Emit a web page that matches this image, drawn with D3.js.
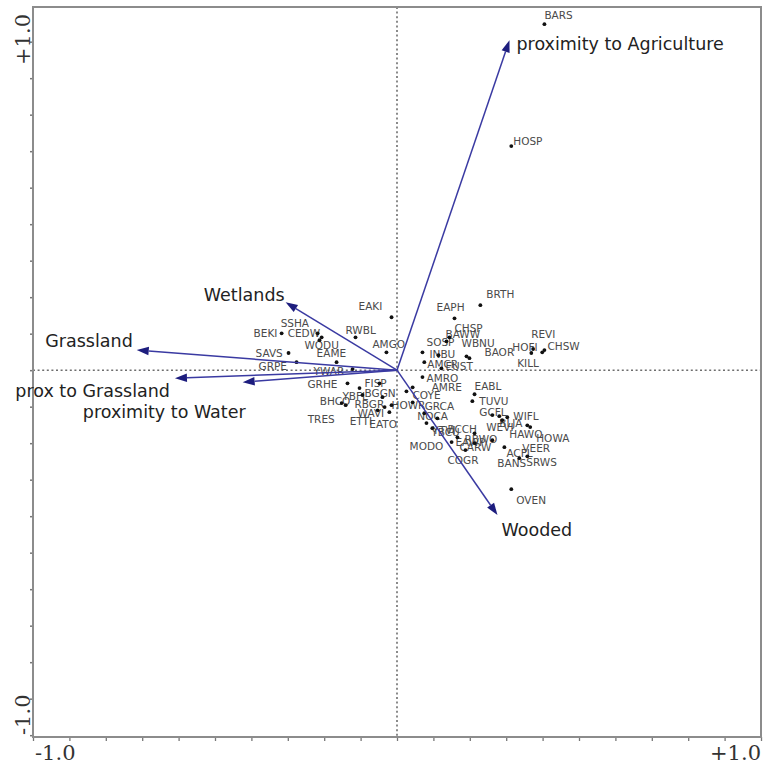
<!DOCTYPE html>
<html>
<head>
<meta charset="utf-8">
<script src="https://cdn.jsdelivr.net/npm/d3@7/dist/d3.min.js"></script>
<style>
  html, body { margin: 0; padding: 0; background: #fff; }
  svg { display: block; }
</style>
</head>
<body>
<svg id="chart" width="765" height="768"></svg>
<script>
// Species scores on the first two ordination axes
const species = ["BARS","HOSP","BRTH","EAPH","EAKI","RWBL","AMGO","SSHA","CEDW","BEKI",
  "WODU","EAME","SAVS","GRPE","YWAR","GRHE","FISP","BGGN","YBFL","BHCO",
  "RBGR","HOWR","WAVI","TRES","ETTI","EATO","CHSP","BAWW","SOSP","WBNU",
  "BAOR","INBU","AMCR","EUST","AMRO","AMRE","COYE","KILL","HOFI","REVI",
  "CHSW","EABL","TUVU","GCFL","WIFL","BLJA","HAWO","HOWA","WEVI","VEER",
  "ACFL","BANS","SRWS","OVEN","GRCA","NOCA","BCCH","YBCU","YTVI","MODO",
  "EAWP","CARW","RBWO","COGR"];
const axis1 = [0.405,0.314,0.229,0.158,-0.015,-0.114,-0.029,-0.218,-0.207,-0.317,
  -0.213,-0.166,-0.298,-0.276,-0.122,-0.136,-0.103,-0.048,-0.095,-0.152,
  -0.040,-0.015,-0.034,-0.141,-0.053,-0.021,0.144,0.136,0.114,0.191,
  0.199,0.070,0.075,0.122,0.070,0.043,0.026,0.399,0.369,0.374,
  0.405,0.213,0.207,0.262,0.303,0.281,0.358,0.366,0.289,0.262,
  0.295,0.336,0.358,0.314,0.043,0.075,0.111,0.097,0.081,0.150,
  0.166,0.213,0.213,0.188];
const axis2 = [0.948,0.614,0.178,0.142,0.145,0.090,0.049,0.101,0.090,0.101,
  0.082,0.022,0.047,0.022,0.003,-0.036,-0.049,-0.036,-0.068,-0.090,
  -0.074,-0.096,-0.101,-0.096,-0.110,-0.115,0.090,0.079,0.041,0.038,
  0.033,0.049,0.022,0.005,-0.019,-0.047,-0.058,0.049,0.047,0.058,
  0.055,-0.066,-0.085,-0.123,-0.129,-0.126,-0.151,-0.156,-0.137,-0.192,
  -0.211,-0.241,-0.236,-0.326,-0.088,-0.118,-0.132,-0.159,-0.145,-0.197,
  -0.184,-0.200,-0.173,-0.219];

// Environmental variable vectors (biplot arrows)
const variables = ["proximity to Agriculture","Wetlands","Grassland","prox to Grassland","proximity to Water","Wooded"];
const varAxis1 = [0.309,-0.306,-0.715,-0.610,-0.424,0.276];
const varAxis2 = [0.904,0.186,0.055,-0.022,-0.033,-0.397];

// Axis end labels
const xEndLabels = ["-1.0","+1.0"];
const yEndLabels = ["-1.0","+1.0"];

// Label offsets (pixels) relative to each species point, keyed by code
const speciesLabelOffset = {
  BARS:[0,-5], HOSP:[2,-1], BRTH:[6,-7], EAPH:[-18,-7], EAKI:[-33,-7], RWBL:[-10,-3],
  AMGO:[-14,-4], SSHA:[-37,-6], CEDW:[-34,0], BEKI:[-28,4], WODU:[-15,9], EAME:[-20,-5],
  SAVS:[-33,4], GRPE:[-38,8], YWAR:[-39,6], GRHE:[-40,5], FISP:[5,-1], BGGN:[-15,14],
  YBFL:[-20,5], BHCO:[-22,2], RBGR:[-28,11], HOWR:[0,4], WAVI:[-27,10], TRES:[-38,18],
  ETTI:[-28,15], EATO:[-20,16], CHSP:[5,-5], BAWW:[-1,-3], SOSP:[-12,-9], WBNU:[-5,-9],
  BAOR:[15,-2], INBU:[7,6], AMCR:[3,6], EUST:[4,2], AMRO:[4,5], AMRE:[19,4], COYE:[6,8],
  KILL:[-25,15], HOFI:[-19,-2], REVI:[-2,-11], CHSW:[3,0], EABL:[0,-4], TUVU:[7,4],
  GCFL:[-13,1], WIFL:[6,3], BLJA:[0,11], HAWO:[-18,13], HOWA:[6,15], WEVI:[-16,11],
  VEER:[30,12], ACFL:[2,10], BANS:[-22,9], SRWS:[-1,10], OVEN:[5,15], GRCA:[12,8],
  NOCA:[-7,7], BCCH:[10,15], YBCU:[-1,8], YTVI:[6,11], MODO:[-42,8], EAWP:[-2,9],
  CARW:[-15,8], RBWO:[-10,10], COGR:[-18,14]
};
// Arrow label placement: [anchor, dx, dy] from the arrow tip
const variableLabelPlacement = {
  "proximity to Agriculture": ["start", 7, 10],
  "Wetlands": ["end", -1, -1],
  "Grassland": ["end", -4, -3],
  "prox to Grassland": ["end", -5, 19],
  "proximity to Water": ["end", 3, 36],
  "Wooded": ["start", 4, 21]
};

const svg = d3.select("#chart");
const x = d3.scaleLinear().domain([-1, 1]).range([33, 761]);
const y = d3.scaleLinear().domain([-1.005, 0.995]).range([737, 7]);

const frameColor = "#8c8c8c";
const arrowColor = "#3a3aa2";
const headColor = "#1d1d7e";

// Ticks
const tickVals = d3.range(-10, 11).map(i => i / 10);
svg.append("g")
  .attr("transform", `translate(0,${y(-1.005)})`)
  .call(d3.axisBottom(x).tickValues(tickVals).tickSize(4).tickFormat(""))
  .call(g => g.select(".domain").remove())
  .call(g => g.selectAll("line").attr("stroke", "#777").attr("stroke-width", 1.3));
svg.append("g")
  .attr("transform", `translate(${x(-1)},0)`)
  .call(d3.axisLeft(y).tickValues(d3.range(-10, 10).map(i => i / 10)).tickSize(3).tickFormat(""))
  .call(g => g.select(".domain").remove())
  .call(g => g.selectAll("line").attr("stroke", "#777").attr("stroke-width", 1.5));

// Centre reference lines
svg.append("line")
  .attr("x1", x(0)).attr("x2", x(0)).attr("y1", y(0.995)).attr("y2", y(-1.005))
  .attr("stroke", "#6e6e6e").attr("stroke-width", 1.6).attr("stroke-dasharray", "2,2.6");
svg.append("line")
  .attr("x1", x(-1)).attr("x2", x(1)).attr("y1", y(0)).attr("y2", y(0))
  .attr("stroke", "#6e6e6e").attr("stroke-width", 1.6).attr("stroke-dasharray", "2,2.6");

// Frame
svg.append("rect")
  .attr("x", x(-1)).attr("y", y(0.995))
  .attr("width", x(1) - x(-1)).attr("height", y(-1.005) - y(0.995))
  .attr("fill", "none").attr("stroke", frameColor).attr("stroke-width", 2);

// Axis end labels
const endFont = "'DejaVu Serif', serif";
svg.append("text").attr("x", x(-1) + 2).attr("y", 760)
  .attr("font-family", endFont).attr("font-size", 21).attr("fill", "#333")
  .text(xEndLabels[0]);
svg.append("text").attr("x", x(1)).attr("y", 760).attr("text-anchor", "end")
  .attr("font-family", endFont).attr("font-size", 21).attr("fill", "#333")
  .text(xEndLabels[1]);
svg.append("text").attr("transform", `translate(30,${y(0.995) + 7}) rotate(-90)`)
  .attr("text-anchor", "end")
  .attr("font-family", endFont).attr("font-size", 21).attr("fill", "#333")
  .text(yEndLabels[1]);
svg.append("text").attr("transform", `translate(30,${y(-1.005) - 2}) rotate(-90)`)
  .attr("text-anchor", "start")
  .attr("font-family", endFont).attr("font-size", 21).attr("fill", "#333")
  .text(yEndLabels[0]);

// Species points and codes
const sp = species.map((s, i) => ({ code: s, a1: axis1[i], a2: axis2[i] }));
const gSp = svg.append("g");
gSp.selectAll("text").data(sp).join("text")
  .attr("x", d => x(d.a1) + speciesLabelOffset[d.code][0])
  .attr("y", d => y(d.a2) + speciesLabelOffset[d.code][1])
  .attr("font-family", "'DejaVu Sans', sans-serif")
  .attr("font-size", 10.5)
  .attr("fill", "#4a4a4a")
  .text(d => d.code);
gSp.selectAll("circle").data(sp).join("circle")
  .attr("cx", d => x(d.a1)).attr("cy", d => y(d.a2))
  .attr("r", 1.9).attr("fill", "#111");

// Environmental arrows
const vars = variables.map((v, i) => ({ name: v, a1: varAxis1[i], a2: varAxis2[i] }));
const gV = svg.append("g");
const headLen = 12, headHalf = 4.2;
vars.forEach(d => {
  const x0 = x(0), y0 = y(0), x1 = x(d.a1), y1 = y(d.a2);
  const ang = Math.atan2(y1 - y0, x1 - x0);
  const bx = x1 - headLen * Math.cos(ang), by = y1 - headLen * Math.sin(ang);
  gV.append("line")
    .attr("x1", x0).attr("y1", y0).attr("x2", bx).attr("y2", by)
    .attr("stroke", arrowColor).attr("stroke-width", 1.5);
  const px = -Math.sin(ang) * headHalf, py = Math.cos(ang) * headHalf;
  gV.append("path")
    .attr("d", `M${x1},${y1}L${bx + px},${by + py}L${bx - px},${by - py}Z`)
    .attr("fill", headColor);
  const p = variableLabelPlacement[d.name];
  gV.append("text")
    .attr("x", x1 + p[1]).attr("y", y1 + p[2])
    .attr("text-anchor", p[0])
    .attr("font-family", "'DejaVu Sans', sans-serif")
    .attr("font-size", 17.5)
    .attr("fill", "#222")
    .text(d.name);
});
</script>
</body>
</html>
